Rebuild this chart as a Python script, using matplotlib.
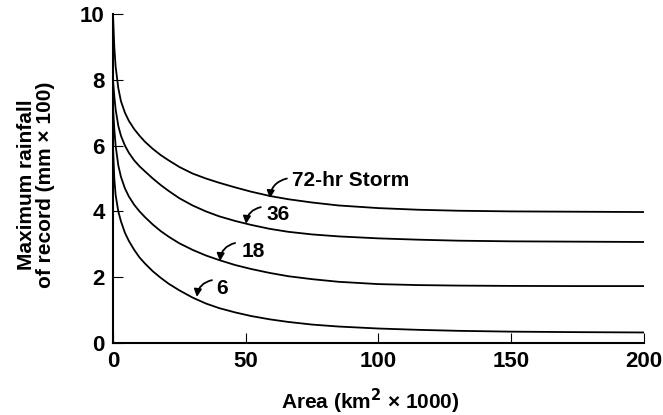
import matplotlib
matplotlib.use("Agg")
import matplotlib.pyplot as plt

plt.rcParams['font.family'] = ['Liberation Sans', 'DejaVu Sans']
plt.rcParams['font.weight'] = 'bold'

# area (km2 x 1000) at which the curves were read
area = [0, 0.5, 1, 2, 3, 4.5, 6, 8, 10, 12, 15, 18, 21, 25, 30, 35, 40, 46, 52,
        59, 66, 75, 85, 100, 115, 130, 150, 175, 200]

# maximum rainfall of record (mm x 100) for each storm duration
rain_72 = [10.0, 9.0, 8.4, 7.75, 7.35, 7.0, 6.75, 6.5, 6.3, 6.12, 5.9, 5.71, 5.55, 5.35,
           5.15, 5.0, 4.87, 4.73, 4.6, 4.47, 4.37, 4.27, 4.18, 4.1, 4.05, 4.02, 4.0, 3.99, 3.98]
rain_36 = [8.0, 7.5, 7.1, 6.6, 6.3, 6.0, 5.78, 5.55, 5.37, 5.22, 5.0, 4.8, 4.62, 4.4,
           4.18, 4.0, 3.85, 3.71, 3.59, 3.47, 3.38, 3.3, 3.24, 3.18, 3.14, 3.11, 3.09, 3.08, 3.07]
rain_18 = [7.2, 6.5, 6.0, 5.4, 5.05, 4.7, 4.45, 4.2, 4.0, 3.83, 3.6, 3.4, 3.23, 3.03,
           2.83, 2.66, 2.52, 2.37, 2.25, 2.13, 2.03, 1.94, 1.86, 1.79, 1.76, 1.745, 1.735, 1.73, 1.73]
rain_6 = [6.0, 5.0, 4.5, 4.0, 3.7, 3.35, 3.1, 2.83, 2.6, 2.42, 2.18, 1.98, 1.8, 1.6,
          1.38, 1.2, 1.06, 0.93, 0.82, 0.72, 0.64, 0.56, 0.5, 0.44, 0.4, 0.37, 0.345, 0.33, 0.32]

# label text, text position, arrow start, arrow tip
labels = ['72-hr Storm', '36', '18', '6']
label_xy = [(67.4, 4.95), (58.0, 3.9), (48.6, 2.78), (39.0, 1.67)]
arrow_from = [(65.5, 5.0), (55.7, 4.13), (46.0, 3.04), (37.3, 1.91)]
arrow_to = [(59.1, 4.4), (50.1, 3.62), (40.3, 2.49), (31.6, 1.4)]

xticks = [0, 50, 100, 150, 200]
yticks = [0, 2, 4, 6, 8, 10]

fig = plt.figure(figsize=(6.63, 4.15), dpi=100)
ax = fig.add_axes([0.1704, 0.1735, 0.8009, 0.7928])

for ys in [rain_72, rain_36, rain_18, rain_6]:
    ax.plot(area, ys, color='black', lw=1.3)

for txt, pos, a0, a1 in zip(labels, label_xy, arrow_from, arrow_to):
    ax.text(pos[0], pos[1], txt, fontsize=15, fontweight='bold', va='center', ha='left')
    ax.annotate('', xy=a1, xytext=a0,
                arrowprops=dict(arrowstyle='-|>', color='black', lw=1.3,
                                mutation_scale=11, shrinkA=0, shrinkB=0,
                                connectionstyle='arc3,rad=0.35'))

ax.set_xlim(0, 200)
ax.set_ylim(0, 10)
ax.set_xticks(xticks)
ax.set_yticks(yticks)
ax.tick_params(direction='in', length=7, width=0.8, labelsize=16, pad=6)
for lab in ax.get_xticklabels() + ax.get_yticklabels():
    lab.set_fontweight('bold')

ax.spines['top'].set_visible(False)
ax.spines['right'].set_visible(False)
ax.spines['left'].set_linewidth(1.5)
ax.spines['bottom'].set_linewidth(1.5)

ax.set_xlabel('Area (km$^{\\mathbf{2}}$ \u00d7 1000)', fontsize=15, fontweight='bold')
ax.xaxis.set_label_coords(0.484, -0.179)
ax.xaxis.label.set_verticalalignment('center')

ax.set_ylabel('Maximum rainfall\nof record (mm \u00d7 100)', fontsize=15, fontweight='bold',
              linespacing=1.05)
ax.yaxis.set_label_coords(-0.145, 0.48)
ax.yaxis.label.set_verticalalignment('center')

fig.savefig('out.png', dpi=100)
